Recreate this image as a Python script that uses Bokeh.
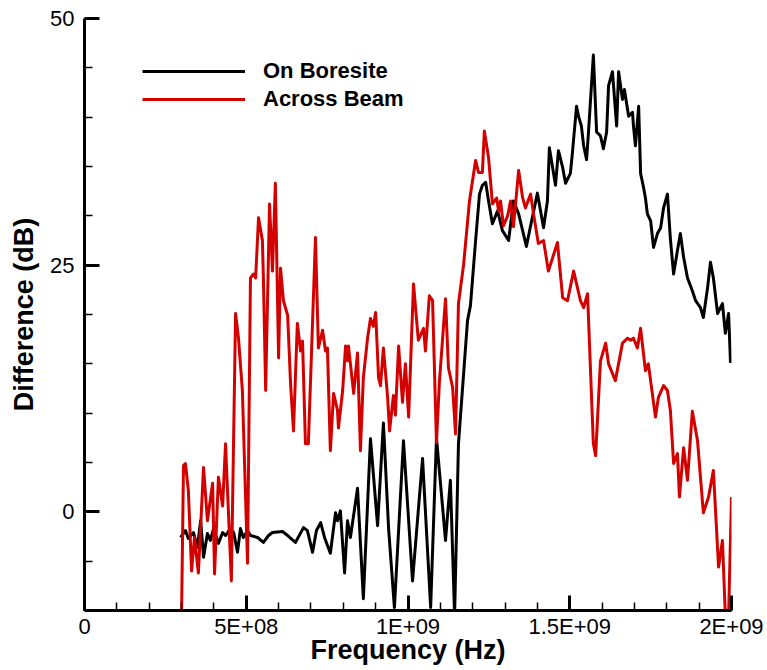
from bokeh.plotting import figure
from bokeh.models import (ColumnDataSource, Range1d, FixedTicker, Legend, LegendItem)
from bokeh.embed import file_html
from bokeh.resources import INLINE

# Frequency in GHz, difference in dB
boresite_freq_ghz = [
    0.297, 0.312, 0.321, 0.337, 0.349, 0.359, 0.368, 0.380, 0.389, 0.399,
    0.414, 0.427, 0.436, 0.451, 0.461, 0.473, 0.482, 0.491, 0.504, 0.513,
    0.535, 0.553, 0.569, 0.581, 0.612, 0.628, 0.652, 0.677, 0.689, 0.705,
    0.717, 0.730, 0.742, 0.760, 0.776, 0.782, 0.791, 0.804, 0.813, 0.822,
    0.844, 0.862, 0.884, 0.906, 0.924, 0.940, 0.958, 0.986, 1.014, 1.045,
    1.070, 1.088, 1.116, 1.131, 1.144, 1.156, 1.184, 1.193, 1.209, 1.221,
    1.230, 1.240, 1.249, 1.261, 1.277, 1.292, 1.311, 1.326, 1.342, 1.366,
    1.379, 1.400, 1.419, 1.431, 1.437, 1.450, 1.456, 1.465, 1.478, 1.487,
    1.502, 1.508, 1.521, 1.527, 1.536, 1.543, 1.552, 1.558, 1.573, 1.583,
    1.595, 1.604, 1.614, 1.620, 1.632, 1.645, 1.651, 1.663, 1.669, 1.682,
    1.694, 1.697, 1.703, 1.713, 1.719, 1.728, 1.734, 1.740, 1.750, 1.759,
    1.771, 1.781, 1.790, 1.802, 1.811, 1.821, 1.833, 1.842, 1.852, 1.864,
    1.879, 1.889, 1.904, 1.913, 1.926, 1.935, 1.944, 1.957, 1.972, 1.981,
    1.991, 1.997,
]
boresite_db = [
    -2.6, -1.9, -2.7, -2.1, -3.6, -0.9, -4.6, -2.2, -2.9, -1.7,
    -3.2, -2.1, -2.4, -1.7, -2.1, -4.1, -1.7, -2.6, -1.9, -2.4,
    -2.6, -3.1, -2.4, -2.1, -2.0, -2.4, -3.1, -1.6, -1.9, -4.1,
    -1.9, -1.1, -2.6, -4.2, -0.1, -0.9, 0.1, -6.2, -0.9, -2.6,
    2.4, -8.8, 7.4, -1.4, 9.0, -1.7, -9.7, 7.2, -7.0, 5.4,
    -9.7, 7.5, -2.9, 3.2, -10.5, 6.9, 19.4, 20.9, 27.5, 32.2,
    33.1, 33.4, 31.5, 29.2, 30.5, 28.5, 27.5, 31.5, 30.2, 26.9,
    29.0, 32.3, 28.8, 31.5, 36.9, 34.3, 33.1, 36.6, 34.9, 33.3,
    34.3, 36.3, 41.1, 40.1, 39.1, 37.1, 35.7, 38.5, 46.3, 38.5,
    38.1, 36.8, 38.5, 43.2, 44.6, 39.1, 44.6, 41.8, 42.8, 40.1,
    40.5, 39.1, 37.1, 41.1, 34.3, 32.9, 31.8, 30.2, 29.5, 26.8,
    28.2, 28.8, 30.8, 32.2, 27.7, 24.1, 26.5, 28.2, 25.8, 23.7,
    22.4, 21.4, 20.7, 19.7, 22.7, 25.3, 23.7, 20.1, 21.1, 18.1,
    20.1, 15.1,
]

across_freq_ghz = [
    0.300, 0.306, 0.312, 0.321, 0.331, 0.340, 0.352, 0.368, 0.380, 0.396,
    0.402, 0.414, 0.427, 0.436, 0.454, 0.467, 0.476, 0.488, 0.504, 0.513,
    0.522, 0.529, 0.538, 0.550, 0.553, 0.560, 0.572, 0.581, 0.590, 0.600,
    0.606, 0.615, 0.628, 0.637, 0.646, 0.658, 0.668, 0.674, 0.683, 0.692,
    0.714, 0.723, 0.736, 0.745, 0.751, 0.760, 0.770, 0.782, 0.785, 0.798,
    0.807, 0.813, 0.816, 0.832, 0.844, 0.853, 0.862, 0.875, 0.884, 0.893,
    0.900, 0.909, 0.915, 0.924, 0.937, 0.943, 0.955, 0.961, 0.971, 0.983,
    0.992, 1.002, 1.017, 1.032, 1.048, 1.054, 1.066, 1.076, 1.088, 1.097,
    1.116, 1.125, 1.138, 1.147, 1.156, 1.172, 1.190, 1.209, 1.218, 1.230,
    1.236, 1.249, 1.261, 1.274, 1.280, 1.286, 1.295, 1.308, 1.317, 1.326,
    1.342, 1.354, 1.363, 1.379, 1.388, 1.403, 1.419, 1.434, 1.462, 1.478,
    1.493, 1.512, 1.533, 1.543, 1.555, 1.573, 1.580, 1.595, 1.611, 1.620,
    1.641, 1.663, 1.679, 1.688, 1.697, 1.709, 1.719, 1.734, 1.743, 1.765,
    1.774, 1.790, 1.802, 1.811, 1.821, 1.833, 1.839, 1.852, 1.864, 1.879,
    1.895, 1.913, 1.929, 1.944, 1.960, 1.972, 1.981, 1.991, 2.000,
]
across_db = [
    -10.5, 4.7, 4.9, 2.2, -6.0, -2.6, -6.2, 4.5, -0.9, 2.9,
    -6.3, 3.5, 0.6, 6.9, -7.0, 20.1, 17.6, 12.3, -5.2, 23.7,
    24.1, 23.7, 29.8, 27.5, 23.7, 12.3, 31.2, 24.4, 33.3, 15.6,
    24.7, 21.4, 19.9, 13.0, 8.2, 19.1, 16.3, 17.3, 6.9, 6.9,
    27.8, 16.6, 18.4, 16.3, 16.6, 6.2, 12.0, 10.3, 8.5, 12.3,
    16.8, 15.3, 16.8, 12.0, 16.1, 6.2, 13.6, 17.6, 19.6, 18.8,
    20.2, 13.6, 12.8, 16.6, 11.6, 8.2, 11.8, 9.8, 16.8, 11.1,
    15.0, 9.6, 23.1, 17.4, 18.6, 16.3, 21.9, 21.4, 7.0, 13.1,
    21.6, 14.6, 12.6, 7.9, 21.1, 25.1, 31.5, 35.6, 34.4, 34.4,
    38.6, 35.9, 31.2, 31.8, 30.5, 31.5, 29.0, 30.0, 31.5, 28.9,
    34.6, 31.9, 30.8, 32.2, 30.2, 27.2, 27.5, 24.4, 27.3, 21.7,
    21.4, 24.4, 21.4, 20.7, 22.1, 6.9, 5.7, 15.3, 17.1, 15.0,
    13.3, 17.1, 17.6, 17.4, 17.6, 16.6, 18.6, 14.3, 15.0, 9.6,
    11.6, 12.8, 12.3, 10.3, 4.9, 5.9, 1.5, 6.5, 3.2, 10.2,
    7.2, -0.1, 1.5, 4.2, -5.6, -2.9, -10.5, -10.5, 1.5,
]

x_major = [0, 5e8, 1e9, 1.5e9, 2e9]
x_labels = ["0", "5E+08", "1E+09", "1.5E+09", "2E+09"]
y_major = [0, 25, 50]
series_names = ["On Boresite", "Across Beam"]
series_colors = ["#000000", "#D40000"]

FONT = "Liberation Sans"

p = figure(width=767, height=670, output_backend="svg", toolbar_location=None,
           x_range=Range1d(0, 2e9), y_range=Range1d(-10, 50),
           min_border_left=84, min_border_right=36,
           min_border_top=18, min_border_bottom=60)
p.outline_line_color = None
p.xgrid.visible = False
p.ygrid.visible = False
p.background_fill_color = "white"
p.border_fill_color = "white"

src_b = ColumnDataSource(dict(x=[f * 1e9 for f in boresite_freq_ghz], y=boresite_db))
src_a = ColumnDataSource(dict(x=[f * 1e9 for f in across_freq_ghz], y=across_db))

r_b = p.line("x", "y", source=src_b, line_color=series_colors[0], line_width=3,
             line_join="round")
r_a = p.line("x", "y", source=src_a, line_color=series_colors[1], line_width=3,
             line_join="round")

# axes styling: ticks pointing into the plot
for ax in (p.xaxis[0], p.yaxis[0]):
    ax.axis_line_width = 3
    ax.axis_line_color = "black"
    ax.major_tick_in = 15
    ax.major_tick_out = 0
    ax.minor_tick_in = 8
    ax.minor_tick_out = 0
    ax.major_tick_line_width = 3
    ax.minor_tick_line_width = 1.5
    ax.major_label_text_font = FONT
    ax.major_label_text_font_size = "22px"
    ax.major_label_text_color = "black"
    ax.axis_label_text_font = FONT
    ax.axis_label_text_font_size = "27px"
    ax.axis_label_text_font_style = "bold"
    ax.axis_label_text_color = "black"

p.xaxis.ticker = FixedTicker(ticks=x_major,
                             minor_ticks=[i * 1e8 for i in range(0, 21)])
p.xaxis.major_label_overrides = {t: s for t, s in zip(x_major, x_labels)}
p.xaxis.axis_label = "Frequency (Hz)"
p.xaxis.major_label_standoff = 3
p.xaxis.axis_label_standoff = -7

p.yaxis.ticker = FixedTicker(ticks=y_major, minor_ticks=list(range(-10, 51, 5)))
p.yaxis.axis_label = "Difference (dB)"
p.yaxis.major_label_standoff = 10
p.yaxis.axis_label_standoff = 8

legend = Legend(items=[LegendItem(label=series_names[0], renderers=[r_b]),
                       LegendItem(label=series_names[1], renderers=[r_a])],
                location=(58, 497), orientation="vertical")
legend.border_line_color = None
legend.background_fill_alpha = 0
legend.padding = 0
legend.margin = 0
legend.spacing = 0
legend.glyph_width = 103
legend.glyph_height = 28
legend.label_height = 28
legend.label_standoff = 18
legend.label_text_font = FONT
legend.label_text_font_size = "22px"
legend.label_text_font_style = "bold"
legend.label_text_color = "black"
p.add_layout(legend, "center")

open("out.html", "w").write(file_html(p, INLINE))
